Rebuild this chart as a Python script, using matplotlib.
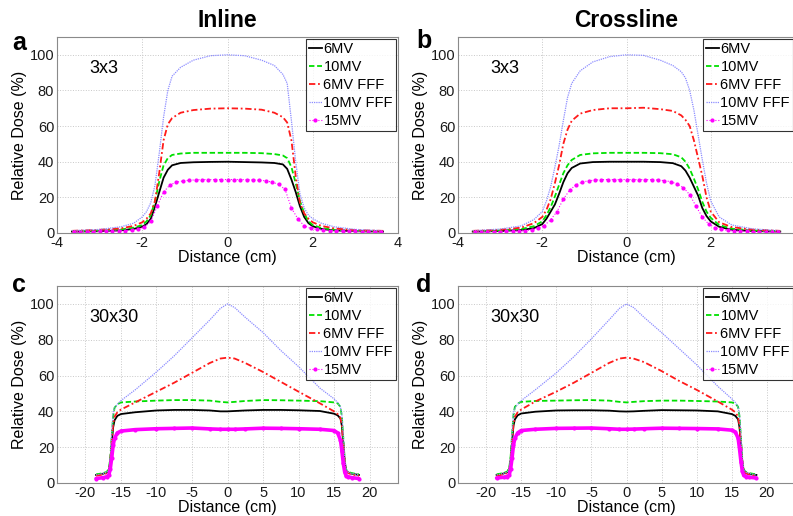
import matplotlib

matplotlib.use("Agg")
import matplotlib.pyplot as plt

plt.rcParams["font.family"] = ["Liberation Sans", "DejaVu Sans"]
plt.rcParams["axes.unicode_minus"] = False

# %% data (Relative Dose %, Distance cm)
labels = ["6MV", "10MV", "6MV FFF", "10MV FFF", "15MV"]

x3 = [-3.65, -3.0, -2.5, -2.2, -2.0, -1.9, -1.8, -1.7, -1.6, -1.5, -1.4, -1.3, -1.1, -0.8, -0.4, 0,
      0.4, 0.8, 1.1, 1.3, 1.4, 1.5, 1.6, 1.7, 1.8, 1.9, 2.0, 2.2, 2.5, 3.0, 3.65]
x3_15 = [-3.6, -3.45, -3.3, -3.15, -3.0, -2.85, -2.7, -2.55, -2.4, -2.25, -2.1, -1.95, -1.8, -1.65,
         -1.5, -1.35, -1.2, -1.05, -0.9, -0.75, -0.6, -0.45, -0.3, -0.15, 0, 0.15, 0.3, 0.45, 0.6,
         0.75, 0.9, 1.05, 1.2, 1.35, 1.5, 1.65, 1.8, 1.95, 2.1, 2.25, 2.4, 2.55, 2.7, 2.85, 3.0,
         3.15, 3.3, 3.45, 3.6]

# a: inline 3x3
a_6mv = [0.8, 1.0, 1.5, 2.3, 3.5, 5.0, 8.0, 15, 23, 31, 35.5, 38, 39.3, 39.7, 39.9, 40, 39.8, 39.6,
         39.3, 38.5, 36, 30, 23, 15, 9, 5.5, 3.8, 2.3, 1.5, 1.0, 0.8]
a_10mv = [1.0, 1.3, 2.0, 3.0, 4.5, 6.5, 10, 18, 29, 38, 42, 43.8, 44.6, 45, 45, 45, 45, 44.8, 44.3,
          43.5, 42, 37, 28, 18, 11, 6.5, 4.5, 2.8, 1.8, 1.2, 1.0]
a_6fff = [1.2, 1.8, 2.6, 4.0, 6.0, 8.0, 11, 18, 34, 52, 61, 64.5, 67.5, 69, 69.8, 70, 69.8, 69.2,
          67.5, 65, 62, 52, 32, 17, 11, 8, 6, 4, 2.6, 1.6, 1.2]
a_10fff = [1.3, 2.0, 3.5, 5.5, 9, 12, 17, 27, 45, 65, 80, 88, 93, 97, 99.5, 100, 99.5, 97, 94, 89,
           84, 63, 40, 22, 14, 10, 8, 5.5, 3.5, 2.0, 1.3]
a_15mv = [0.7, 0.7, 0.8, 0.8, 0.9, 1.0, 1.1, 1.2, 1.4, 1.6, 2.1, 3.3, 6.5, 15, 23, 27, 28.5, 29.2,
          29.6, 29.8, 30, 30, 30, 30, 30, 30, 30, 29.9, 29.8, 29.6, 29.3, 28.5, 27.3, 24.5, 14, 8,
          4, 2.6, 2.0, 1.6, 1.4, 1.2, 1.1, 1.0, 0.9, 0.8, 0.8, 0.7, 0.7]

# b: crossline 3x3
b_6mv = [0.8, 1.1, 1.7, 2.7, 5.0, 8.0, 12, 16, 22, 28.5, 33.5, 36.5, 39, 39.8, 40, 40, 40, 39.8,
         39.2, 37.5, 35, 31, 26, 21, 14, 9.5, 6.5, 3.5, 1.8, 1.1, 0.8]
b_10mv = [1.0, 1.4, 2.2, 3.8, 6.5, 10, 14.5, 20.5, 27, 33.5, 38, 41, 43.8, 44.7, 45, 45, 45, 44.8,
          44.2, 42.5, 40, 36, 30.5, 24.5, 17.5, 12, 8.5, 4.5, 2.4, 1.4, 1.0]
b_6fff = [1.2, 1.8, 3.0, 5.5, 9, 13, 19, 28, 38, 50, 58, 63, 67, 69, 70, 70, 70.3, 69.5, 68.5, 66,
          63.5, 60, 52, 42, 32, 20, 12, 6, 3.3, 1.9, 1.2]
b_10fff = [1.3, 2.2, 4.0, 7.5, 12, 18, 26, 37, 49, 63, 76, 84, 91, 96, 99, 100, 99.7, 97, 94, 90.5,
           87, 80, 69, 55, 41, 28, 18, 9, 4.5, 2.3, 1.3]
b_15mv = [0.6, 0.7, 0.7, 0.8, 0.8, 0.9, 1.0, 1.1, 1.3, 1.8, 2.6, 4.2, 7.5, 12, 19, 24, 27, 28.6,
          29.3, 29.7, 29.9, 30, 30, 30, 30, 30, 30, 30, 29.9, 29.7, 29.4, 28.8, 27.5, 25.5, 21.5,
          15, 9, 5, 3, 2.0, 1.5, 1.2, 1.0, 0.9, 0.8, 0.8, 0.7, 0.7, 0.6]

x30 = [-18.5, -17.5, -17, -16.7, -16.5, -16.3, -16.1, -15.9, -15.5, -15, -13, -10, -7.5, -5, -2.5,
       -1, 0, 1, 2.5, 5, 7.5, 10, 13, 15, 15.5, 15.9, 16.1, 16.3, 16.5, 16.7, 17, 17.5, 18.5]

# c: inline 30x30
c_6mv = [4.5, 5.2, 5.8, 7, 12, 22, 31, 35, 37.5, 38.5, 39.5, 40.5, 40.8, 40.8, 40.5, 40, 40, 40.2,
         40.5, 40.8, 40.8, 40.6, 40.2, 38.7, 37.8, 36, 32, 22, 12, 7, 5.8, 5.2, 4.5]
c_10mv = [4.8, 5.5, 6.2, 8, 14, 26, 37, 42, 44, 45, 45.5, 46, 46.3, 46.3, 46, 45.3, 45, 45.3, 45.8,
          46.3, 46.2, 46, 45.7, 45, 44.5, 42.5, 37, 25, 13, 7.5, 6.2, 5.5, 4.8]
c_6fff = [4, 4.8, 5.5, 7, 12, 23, 33, 37, 39.5, 41, 45, 51, 56, 61.5, 67, 69.5, 70, 69.5, 67, 62,
          56.5, 51, 44.5, 40, 38.5, 36.5, 32, 22, 12, 7, 5.5, 4.8, 4]
c_10fff = [4.5, 5.3, 6, 8, 14, 28, 39, 42, 44, 46, 52, 62, 71, 81, 91, 97.5, 100, 98, 92.5, 84, 74,
           65, 53, 47, 45, 42.5, 38, 27, 14, 8, 6, 5.3, 4.5]
c_15mv = [2.5, 3, 3.5, 4.5, 8, 14, 21, 25, 28, 29, 29.8, 30.3, 30.5, 30.7, 30.2, 30, 30, 30, 30.2,
          30.6, 30.5, 30.3, 30, 29.3, 28, 24, 18, 11, 6, 4, 3.5, 3, 2.5]

# d: crossline 30x30
d_6mv = [4.5, 5.3, 6, 7.5, 13, 23, 32, 35.5, 37.8, 38.8, 39.8, 40.5, 40.6, 40.6, 40.4, 40, 39.9,
         40, 40.3, 40.7, 40.6, 40.5, 40, 38.5, 37.5, 35.5, 31, 21, 11, 6.5, 5.5, 5, 4.5]
d_10mv = [4.8, 5.6, 6.3, 8.5, 15, 27, 38, 42.5, 44.3, 45.3, 45.8, 46, 46.2, 46.3, 46, 45.3, 45,
          45.3, 45.7, 46, 46, 45.8, 45.5, 45, 44.5, 42.5, 37, 25, 13, 7.5, 6.2, 5.5, 4.8]
d_6fff = [4, 4.8, 5.5, 7, 12, 23, 33, 37, 39.5, 41, 45.5, 51, 56, 61.5, 67, 69.5, 70, 69.5, 67.5,
          62.5, 57, 52, 45.5, 41, 39.5, 37, 32, 22, 12, 7, 5.5, 4.8, 4]
d_10fff = [4.5, 5.3, 6, 8, 14, 28, 39, 42, 44, 46, 52, 61.5, 70.5, 80.5, 91, 97.5, 100, 98, 92.5,
           84, 75, 66, 54, 47, 45, 42.5, 38, 27, 14, 8, 6, 5.3, 4.5]
d_15mv = [2.8, 3.2, 3.6, 4.5, 8, 14, 21, 25, 28, 29.3, 30, 30.5, 30.6, 30.7, 30.3, 30, 30, 30.1,
          30.3, 30.6, 30.5, 30.4, 30.2, 29.5, 28.5, 25, 19, 12, 6.5, 4.2, 3.6, 3.2, 2.8]

# %% styling
GREEN = "#00e000"
RED = "#ff1a1a"
BLUE = "#8c8cff"
MAG = "#ff00ff"


def panel(ax, x, y6, y10, y6f, y10f, x15, y15, field, dense):
    ax.plot(x, y6, color="black", lw=1.3, label=labels[0])
    ax.plot(x, y10, color=GREEN, lw=1.3, ls=(0, (3, 1.5)), label=labels[1])
    ax.plot(x, y6f, color=RED, lw=1.3, ls=(0, (3.5, 1.5, 1, 1.5)), label=labels[2])
    ax.plot(x, y10f, color=BLUE, lw=0.9, ls=(0, (1, 0.8)), label=labels[3])
    if dense:
        ax.plot(x15, y15, color=MAG, lw=2.6, solid_capstyle="round")
        ax.plot(x15, y15, color=MAG, lw=0.8, ls=":", marker=".", ms=4, label=labels[4])
    else:
        ax.plot(x15, y15, color=MAG, lw=0.8, ls=":", marker=".", ms=4, label=labels[4])
    ax.set_ylim(0, 110)
    ax.set_yticks([0, 20, 40, 60, 80, 100])
    ax.grid(True, color="#c8c8c8", ls=":", lw=0.7)
    ax.set_axisbelow(True)
    for s in ax.spines.values():
        s.set_color("#8a8a8a")
        s.set_linewidth(0.8)
    ax.tick_params(length=0, labelsize=10.5, pad=2, colors="#1a1a1a")
    ax.set_ylabel("Relative Dose (%)", fontsize=11.5, labelpad=2)
    ax.set_xlabel("Distance (cm)", fontsize=11.5, labelpad=0)
    ax.text(0.095, 0.84, field, transform=ax.transAxes, fontsize=13, va="center", ha="left")
    leg = ax.legend(loc="upper right", fontsize=10.5, frameon=True, fancybox=False,
                    borderaxespad=0.15, borderpad=0.2, handlelength=0.9, handletextpad=0.1,
                    labelspacing=0.28)
    leg.get_frame().set_edgecolor("black")
    leg.get_frame().set_linewidth(0.8)


fig = plt.figure(figsize=(7.93, 5.16), dpi=100)
W, H = 793.0, 516.0


def add_axes(left, top, right, bottom):
    return fig.add_axes([left / W, 1 - bottom / H, (right - left) / W, (bottom - top) / H])


ax_a = add_axes(57, 37, 398, 233)
ax_b = add_axes(458, 37, 795, 233)
ax_c = add_axes(57, 286, 398, 483)
ax_d = add_axes(458, 286, 795, 483)

panel(ax_a, x3, a_6mv, a_10mv, a_6fff, a_10fff, x3_15, a_15mv, "3x3", False)
panel(ax_b, x3, b_6mv, b_10mv, b_6fff, b_10fff, x3_15, b_15mv, "3x3", False)
panel(ax_c, x30, c_6mv, c_10mv, c_6fff, c_10fff, x30, c_15mv, "30x30", True)
panel(ax_d, x30, d_6mv, d_10mv, d_6fff, d_10fff, x30, d_15mv, "30x30", True)

ax_a.set_xlim(-4, 4)
ax_a.set_xticks([-4, -2, 0, 2, 4])
ax_b.set_xlim(-4, 4)
ax_b.set_xticks([-4, -2, 0, 2])
for ax in (ax_c, ax_d):
    ax.set_xlim(-24, 24)
    ax.set_xticks([-20, -15, -10, -5, 0, 5, 10, 15, 20])

ax_a.set_title("Inline", fontsize=16.5, fontweight="bold", pad=7)
ax_b.set_title("Crossline", fontsize=16.5, fontweight="bold", pad=7)

for letter, px, py in [("a", 12, 50), ("b", 416, 48), ("c", 12, 292), ("d", 416, 292)]:
    fig.text(px / W, 1 - py / H, letter, fontsize=18, fontweight="bold", va="baseline")

fig.savefig("out.png", dpi=100)
